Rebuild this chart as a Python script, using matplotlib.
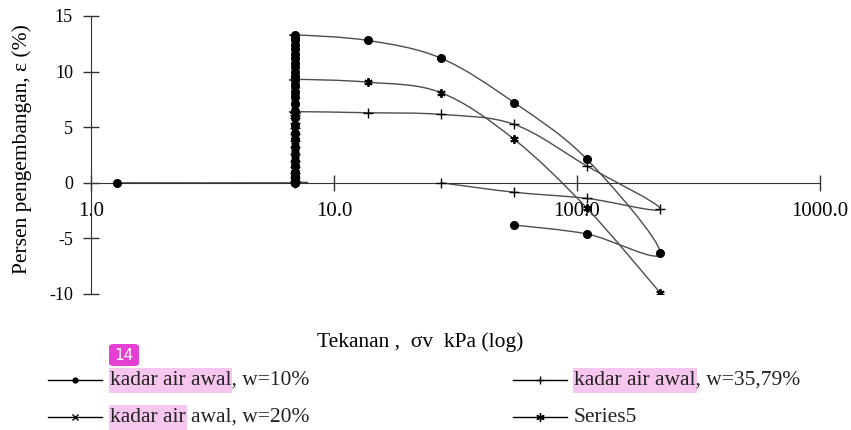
import numpy as np
import matplotlib
matplotlib.use('Agg')
import matplotlib.pyplot as plt
from matplotlib.path import Path
from matplotlib.patches import PathPatch, FancyBboxPatch, Rectangle
from matplotlib.lines import Line2D
from matplotlib.ticker import FixedLocator, FixedFormatter, NullLocator

plt.rcParams['font.family'] = ['Liberation Serif', 'DejaVu Serif']
plt.rcParams['axes.unicode_minus'] = False

# pressure steps (kPa) and swelling (%)
seat = 6.9

stack_10 = [0, 0.1, 0.3, 0.6, 1.0, 1.5, 2.0, 2.6, 3.2, 3.9, 4.5, 5.2, 5.9, 6.5, 7.1,
            7.7, 8.2, 8.7, 9.2, 9.6, 10.0, 10.4, 10.8, 11.2, 11.6, 12.0, 12.4, 12.8, 13.1, 13.3]
load_10_x = [13.8, 27.6, 55.2, 110, 220, 110, 55.2]
load_10_y = [12.8, 11.2, 7.2, 2.1, -6.3, -4.6, -3.8]

stack_20 = [0, 0.4, 0.9, 1.5, 2.2, 3.0, 3.8, 4.6, 5.4, 6.2, 6.9, 7.6, 8.2, 8.7, 9.1]

stack_36 = [0, 0.2, 0.5, 0.9, 1.4, 2.0, 2.6, 3.2, 3.8, 4.4, 4.9, 5.4, 5.8, 6.1, 6.3, 6.4]
load_36_x = [13.8, 27.6, 55.2, 110, 220, 110, 55.2, 27.6]
load_36_y = [6.3, 6.15, 5.25, 1.5, -2.35, -1.4, -0.85, 0]

stack_s5 = [0, 0.3, 0.7, 1.2, 1.8, 2.4, 3.0, 3.7, 4.4, 5.1, 5.8, 6.5, 7.2, 7.8, 8.4, 8.8, 9.1, 9.3]
load_s5_x = [13.8, 27.6, 55.2, 110, 220]
load_s5_y = [9.05, 8.1, 3.9, -2.3, -9.9]

x_ticks = [1, 10, 100, 1000]
x_labels = ['1.0', '10.0', '100.0', '1000.0']
y_ticks = [-10, -5, 0, 5, 10, 15]

s1_x = [1.28] + [seat] * len(stack_10) + load_10_x
s1_y = [0] + stack_10 + load_10_y
s2_x = [seat] * len(stack_20)
s2_y = stack_20
s3_x = [seat] * len(stack_36) + load_36_x
s3_y = stack_36 + load_36_y
s5_x = [seat] * len(stack_s5) + load_s5_x
s5_y = stack_s5 + load_s5_y

W, H = 851, 430
fig = plt.figure(figsize=(W / 100, H / 100), dpi=100)
ax = fig.add_axes([91 / W, 1 - 294 / H, (820 - 91) / W, (294 - 16) / H])
ax.set_xscale('log')
ax.set_xlim(1, 1000)
ax.set_ylim(-10, 15)

line_col = '#4d4d4d'


def smooth_line(xs, ys):
    # Excel-like smoothed line: cubic bezier through the points in screen space
    pts = ax.transData.transform(np.column_stack([xs, ys]))
    verts = [pts[0]]
    codes = [Path.MOVETO]
    n = len(pts)
    for i in range(n - 1):
        p0 = pts[i - 1] if i > 0 else pts[i]
        p1 = pts[i]
        p2 = pts[i + 1]
        p3 = pts[i + 2] if i + 2 < n else pts[i + 1]
        c1 = p1 + (p2 - p0) / 6
        c2 = p2 - (p3 - p1) / 6
        verts += [c1, c2, p2]
        codes += [Path.CURVE4] * 3
    verts = ax.transData.inverted().transform(np.array(verts))
    ax.add_patch(PathPatch(Path(verts, codes), fill=False, edgecolor=line_col,
                           lw=1.0, transform=ax.transData, zorder=2))


asterisk = (6, 2, 0)
series = [
    (s1_x, s1_y, 'o', 5.5, 1.0),
    (s2_x, s2_y, 'x', 5, 1.2),
    (s3_x, s3_y, '+', 6.5, 1.0),
    (s5_x, s5_y, asterisk, 6, 1.4),
]
for xs, ys, m, ms, mew in series:
    smooth_line(xs, ys)
    ax.plot(xs, ys, linestyle='none', marker=m, ms=ms, mew=mew,
            color='black', zorder=3)

# axes crossing at y = 0
ax.spines['top'].set_visible(False)
ax.spines['right'].set_visible(False)
ax.spines['bottom'].set_position(('data', 0))
ax.spines['left'].set_color('#333333')
ax.spines['bottom'].set_color('#333333')
ax.xaxis.set_major_locator(FixedLocator(x_ticks))
ax.xaxis.set_major_formatter(FixedFormatter(x_labels))
ax.xaxis.set_minor_locator(NullLocator())
ax.set_yticks(y_ticks)
ax.tick_params(axis='both', direction='inout', length=12, width=1, color='#333333')
ax.tick_params(axis='x', pad=8, labelsize=15)
ax.tick_params(axis='y', pad=7, labelsize=13)

ax.set_ylabel('Persen pengembangan, ε (%)', fontsize=15.5)
ax.yaxis.set_label_coords(-0.081, 0.52)
fig.text(420 / W, 1 - 342 / H, 'Tekanan ,  σv  kPa (log)', fontsize=15.5,
         ha='center', va='center')

# legend, drawn by hand in two columns
def fx(px):
    return px / W


def fy(py):
    return 1 - py / H


pink = '#f7c6ef'
leg_fs = 15.5
legend_rows = [
    (48, 110, 380, 'o', 3.5, 'kadar air awal, w=10%', 'kadar air awal'),
    (48, 110, 417, 'x', 5, 'kadar air awal, w=20%', 'kadar air'),
    (513, 574, 380, '+', 6, 'kadar air awal, w=35,79%', 'kadar air awal'),
    (513, 574, 417, asterisk, 6, 'Series5', None),
]
renderer = fig.canvas.get_renderer()
for hx, tx, ty, m, ms, label, marked in legend_rows:
    fig.add_artist(Line2D([fx(hx), fx(hx + 54)], [fy(ty), fy(ty)],
                          color='black', lw=1, transform=fig.transFigure))
    fig.add_artist(Line2D([fx(hx + 27)], [fy(ty)], marker=m, ms=ms, mew=1,
                          color='black', transform=fig.transFigure))
    if marked:
        # highlight box sized to the marked words
        tmp = fig.text(fx(tx), fy(ty), marked, fontsize=leg_fs, ha='left', va='center')
        bb = tmp.get_window_extent(renderer)
        tmp.remove()
        fig.add_artist(Rectangle((fx(bb.x0 - 1), fy(ty + 12.5)), (bb.width + 2) / W, 25 / H,
                                 fc=pink, ec='none', transform=fig.transFigure, zorder=0))
    fig.text(fx(tx), fy(ty), label, fontsize=leg_fs, ha='left', va='center',
             color='#222222', zorder=2)

# search badge
fig.add_artist(FancyBboxPatch((fx(109), fy(366)), fx(139) - fx(109), fy(344) - fy(366),
                              boxstyle='round,pad=0,rounding_size=0.006',
                              fc='#e33fd2', ec='none', transform=fig.transFigure))
fig.text(fx(124), fy(355), '14', fontsize=11, color='white', ha='center', va='center',
         family='DejaVu Sans')

plt.savefig('out.png', dpi=100)
